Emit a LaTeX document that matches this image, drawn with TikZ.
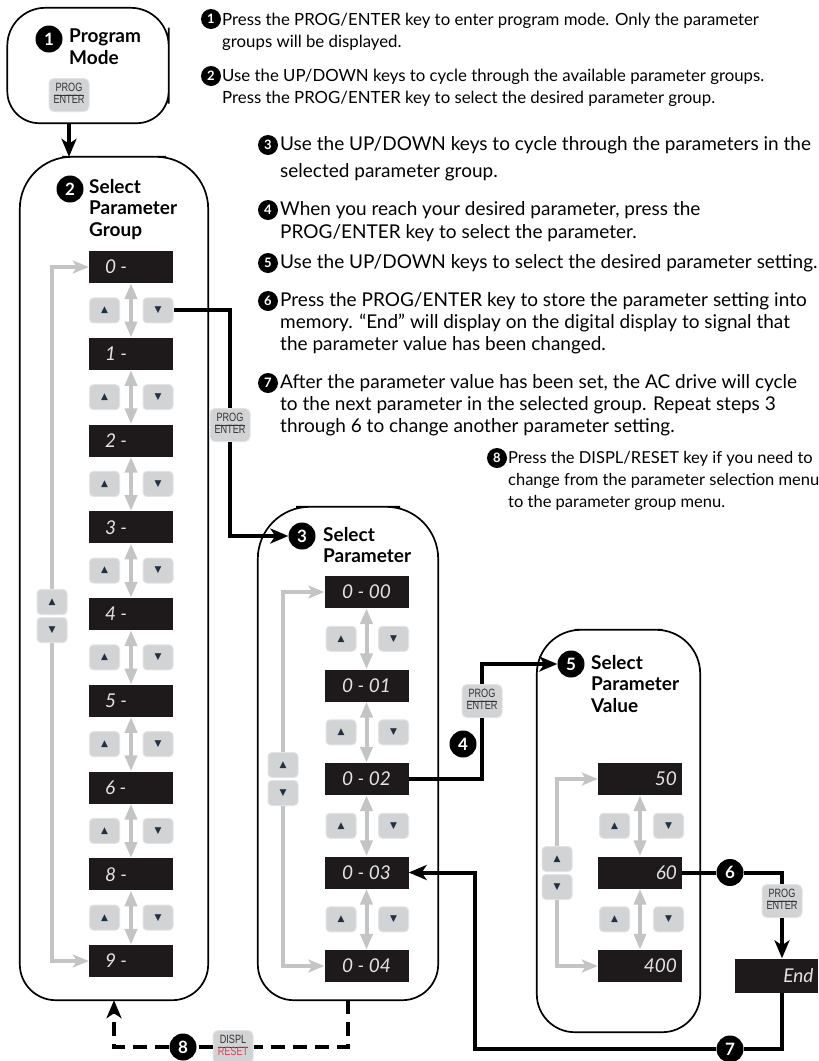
\documentclass[tikz,border=0pt]{standalone}
\usepackage{fontspec}
\setmainfont{Lato}
\newfontfamily\keyfont[FakeStretch=0.76]{Liberation Sans}
\newfontfamily\symfont{DejaVu Sans}
\usetikzlibrary{arrows.meta,positioning}

\definecolor{dispblack}{HTML}{1E1A1B}
\definecolor{segcol}{HTML}{E4E4E4}
\definecolor{keygray}{HTML}{D2D3D4}
\definecolor{keyedge}{HTML}{E2E3E4}
\definecolor{loopgray}{HTML}{C3C4C6}
\definecolor{trinavy}{HTML}{233041}
\definecolor{resetred}{HTML}{E0405C}

\newcommand\dl[1]{\makebox[52pt][l]{#1}}
\newcommand\dr[1]{\makebox[74pt][r]{#1}}
\newcommand\keylab[2]{\begin{tabular}{@{}c@{}}#1\\\hline #2\end{tabular}}
\newcommand\frameit[3]{\draw[frame] (#1.west) [rounded corners=#2] |- (#1.north) -| (#1.east) [rounded corners=#3] |- (#1.south) -| (#1.west);}

\begin{document}
\begin{tikzpicture}[x=1pt,y=-1pt,
  frame/.style={line width=1.7pt},
  boxn/.style={inner sep=0pt},
  disp/.style={fill=dispblack, minimum width=84pt, minimum height=32pt, inner sep=0pt, text=segcol, font=\itshape\fontsize{19}{19}\selectfont},
  keyb/.style={fill=keygray, draw=keyedge, line width=1pt, rounded corners=4pt, minimum width=30pt, minimum height=25pt, inner sep=0pt, text=trinavy, font=\symfont\fontsize{9}{9}\selectfont},
  pkey/.style={fill=keygray, draw=keyedge, line width=1pt, rounded corners=5pt, minimum width=40pt, minimum height=33pt, inner sep=1pt, text=black!80, font=\keyfont\fontsize{12}{12.5}\selectfont},
  numc/.style={circle, fill=black, text=white, inner sep=0pt, minimum size=27pt, font=\bfseries\fontsize{17}{17}\selectfont},
  tnum/.style={circle, fill=black, text=white, inner sep=0pt, minimum size=20pt, font=\bfseries\fontsize{13}{13}\selectfont},
  title/.style={align=left, inner sep=0pt, font=\bfseries\fontsize{19}{21.5}\selectfont},
  body/.style={align=left, inner sep=0pt, anchor=north west, font=\fontsize{19}{22}\selectfont},
  link/.style={line width=4pt},
  flow/.style={line width=4pt, -{Stealth[length=18pt,width=15pt,inset=5pt]}},
  back/.style={line width=4.5pt, dash pattern=on 14pt off 8pt},
  gloop/.style={line width=3.5pt, draw=loopgray, -{Stealth[length=16pt,width=13pt,inset=4pt]}},
  updn/.style={line width=4pt, draw=loopgray, {Triangle[length=16pt,width=12pt]}-{Triangle[length=16pt,width=12pt]}}]
\useasboundingbox (0,0) rectangle (819,1061);

% step texts
\node[tnum] (c1) at (211,19) {1};
\node[body, font=\fontsize{16.8}{22}\selectfont] (x1) at (222,12.5) {Press the PROG/ENTER key to enter program mode. Only the parameter\\groups will be displayed.};
\node[tnum] (c2) at (211,76) {2};
\node[body, font=\fontsize{16.8}{22}\selectfont] (x2) at (222,68.5) {Use the UP/DOWN keys to cycle through the available parameter groups.\\Press the PROG/ENTER key to select the desired parameter group.};
\node[tnum] (c3) at (268,145) {3};
\node[body] (x3) at (280,136.5) {Use the UP/DOWN keys to cycle through the parameters in the\\[5pt]selected parameter group.};
\node[tnum] (c4) at (268,210) {4};
\node[body] (x4) at (280,201.5) {When you reach your desired parameter, press the\\[1pt]PROG/ENTER key to select the parameter.};
\node[tnum] (c5) at (268,263) {5};
\node[body] (x5) at (280,254.5) {Use the UP/DOWN keys to select the desired parameter setting.};
\node[tnum] (c6) at (268,301) {6};
\node[body] (x6) at (280,292.5) {Press the PROG/ENTER key to store the parameter setting into\\memory. “End” will display on the digital display to signal that\\the parameter value has been changed.};
\node[tnum] (c7) at (268,383) {7};
\node[body] (x7) at (280,374.5) {After the parameter value has been set, the AC drive will cycle\\to the next parameter in the selected group. Repeat steps 3\\through 6 to change another parameter setting.};
\node[tnum] (c8) at (497,458) {8};
\node[body, font=\fontsize{16.5}{22}\selectfont] (x8) at (508,451) {Press the DISPL/RESET key if you need to\\change from the parameter selection menu\\to the parameter group menu.};

% program mode
\node[boxn, minimum width=161pt, minimum height=115pt] (b1) at (88,65.5) {};
\frameit{b1}{38pt}{32pt}
\node[numc] (n1) at (49,39) {1};
\node[title, anchor=north west] (t1) at (69,29) {Program\\Mode};
\node[pkey] (pk1) at (69,95) {\keylab{PROG}{ENTER}};

% parameter groups
\node[boxn, minimum width=188pt, minimum height=843pt] (b2) at (114,578.5) {};
\frameit{b2}{52pt}{36pt}
\node[numc] (n2) at (70,189) {2};
\node[title, anchor=north west] (t2) at (89,179) {Select\\Parameter\\Group};
\foreach \lab [count=\i from 0] in {0,1,2,3,4,5,6,8,9}
  \node[disp] (g\i) at (131,{267+86.75*\i}) {\dl{\lab~-}};
\foreach \i [evaluate=\i as \j using int(\i+1)] in {0,...,7} {
  \node[keyb] (gu\i) at (104.5,{310.4+86.75*\i}) {▲};
  \node[keyb] (gd\i) at (158,{310.4+86.75*\i}) {▼};
  \draw[updn] (g\i.south) -- (g\j.north);
}
\node[keyb] (s2u) at (52,602) {▲};
\node[keyb] (s2d) at (52,630) {▼};
\draw[gloop] (s2u.north) |- (g0.west);
\draw[gloop] (s2d.south) |- (g8.west);

% parameters
\node[boxn, minimum width=180pt, minimum height=493pt] (b3) at (348,753.5) {};
\frameit{b3}{52pt}{36pt}
\node[numc] (n3) at (302,536) {3};
\node[title, anchor=north west] (t3) at (323,527) {Select\\Parameter};
\foreach \lab [count=\i from 0] in {00,01,02,03,04}
  \node[disp] (p\i) at (366.5,{592+93.5*\i}) {0~-~\lab};
\foreach \i [evaluate=\i as \j using int(\i+1)] in {0,...,3} {
  \node[keyb] (pu\i) at (341,{638.75+93.5*\i}) {▲};
  \node[keyb] (pd\i) at (393.5,{638.75+93.5*\i}) {▼};
  \draw[updn] (p\i.south) -- (p\j.north);
}
\node[keyb] (s3u) at (283,765) {▲};
\node[keyb] (s3d) at (283,793) {▼};
\draw[gloop] (s3u.north) |- (p0.west);
\draw[gloop] (s3d.south) |- (p4.west);

% parameter value
\node[boxn, minimum width=163pt, minimum height=402pt] (b5) at (618.5,831) {};
\frameit{b5}{44pt}{38pt}
\node[numc] (n5) at (571,664) {5};
\node[title, anchor=north west] (t5) at (591,655) {Select\\Parameter\\Value};
\foreach \lab [count=\i from 0] in {50,60,400}
  \node[disp] (v\i) at (640,{779+93.5*\i}) {\dr{\lab}};
\foreach \i [evaluate=\i as \j using int(\i+1)] in {0,1} {
  \node[keyb] (vu\i) at (614.5,{825.75+93.5*\i}) {▲};
  \node[keyb] (vd\i) at (668.5,{825.75+93.5*\i}) {▼};
  \draw[updn] (v\i.south) -- (v\j.north);
}
\node[keyb] (s5u) at (557,859) {▲};
\node[keyb] (s5d) at (557,887) {▼};
\draw[gloop] (s5u.north) |- (v0.west);
\draw[gloop] (s5d.south) |- (v2.west);
\node[disp, minimum width=83pt, minimum height=34pt] (endd) at (776.5,975.5) {\dr{End}};

% keys and step marks on the paths
\node[pkey] (pk2) at (230,425) {\keylab{PROG}{ENTER}};
\node[pkey] (pk4) at (482,701) {\keylab{PROG}{ENTER}};
\node[pkey] (pk6) at (782,901) {\keylab{PROG}{ENTER}};
\node[pkey] (rk) at (233,1047) {\keylab{DISPL}{\color{resetred}RESET}};
\node[numc] (n4) at (463,744) {4};
\node[numc] (n6) at (730,872.5) {6};
\node[numc] (n7) at (730,1049) {7};
\node[numc] (n8) at (183,1047) {8};
\coordinate (turn7) at (475,872.5);

% connectors
\draw[flow] (pk1.south |- b1.south) -- (pk1.south |- b2.north);
\draw[link] (gd0.east) -| (pk2.north);
\draw[flow] (pk2.south) |- (n3.west);
\draw[link] (p2.east) -| (pk4.south);
\draw[flow] (pk4.north) |- (n5.west);
\draw[link] (v1.east) -- (n6.west);
\draw[link] (n6.east) -| (pk6.north);
\draw[flow] (pk6.south) -- (pk6.south |- endd.north);
\draw[link] (pk6.south |- endd.south) |- (n7.east);
\draw[flow] (n7.west) -| (turn7) -- (p3.east);
\draw[back] (b3.south) |- (rk.east);
\draw[back] (rk.west) -- (n8.east);
\draw[back, -{Stealth[length=18pt,width=15pt,inset=5pt]}] (n8.west) -| (b2.south);
\end{tikzpicture}
\end{document}
